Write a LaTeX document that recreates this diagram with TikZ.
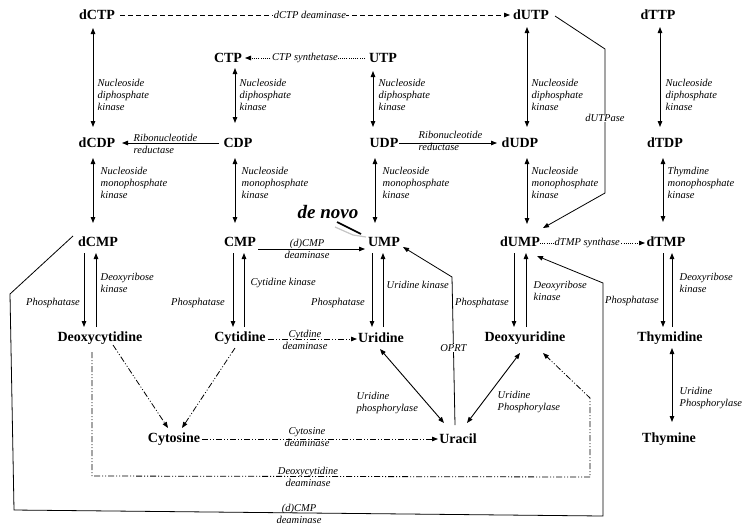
\documentclass[tikz,border=0pt]{standalone}
\usepackage{fontspec}
\setmainfont{Liberation Serif}
\usetikzlibrary{arrows.meta}
\tikzset{
  nd/.style={font=\fontsize{14}{15}\selectfont\bfseries, inner sep=1pt},
  lab/.style={font=\fontsize{10.5}{12}\selectfont\itshape, inner sep=0.5pt, align=left},
  labc/.style={font=\fontsize{10.5}{12}\selectfont\itshape, inner sep=0.5pt, align=center},
  tip/.tip={Triangle[length=6pt,width=4.5pt]},
  con/.style={line width=0.8pt},
  one/.style={con, -tip},
  two/.style={line width=1pt, tip-tip},
  dn/.style={line width=1pt, -tip},
  dsh/.style={con, -tip, dash pattern=on 5pt off 3pt},
  dts/.style={con, -tip, dash pattern=on 1pt off 1.2pt},
  ddot/.style={con, -tip, dash pattern=on 6pt off 2pt on 1pt off 2pt on 1pt off 2pt},
}
\begin{document}
\begin{tikzpicture}[x=1pt,y=-1pt]
\useasboundingbox[fill=white] (0,0) rectangle (751,531);
% nodes
\node[nd] (dCTP) at (97,15) {dCTP};
\node[nd] (dUTP) at (531,15) {dUTP};
\node[nd] (dTTP) at (658,15) {dTTP};
\node[nd] (CTP) at (228,58) {CTP};
\node[nd] (UTP) at (383,58) {UTP};
\node[nd] (dCDP) at (97,143) {dCDP};
\node[nd] (CDP) at (238,143) {CDP};
\node[nd] (UDP) at (384,143) {UDP};
\node[nd] (dUDP) at (520,143) {dUDP};
\node[nd] (dTDP) at (665,143) {dTDP};
\node[nd] (dCMP) at (98,242) {dCMP};
\node[nd] (CMP) at (240,242) {CMP};
\node[nd] (UMP) at (384,242) {UMP};
\node[nd] (dUMP) at (520,242) {dUMP};
\node[nd] (dTMP) at (666,242) {dTMP};
\node[nd] (dCyd) at (100,338) {Deoxycytidine};
\node[nd] (Cyd) at (240,338) {Cytidine};
\node[nd] (Urd) at (381,338) {Uridine};
\node[nd] (dUrd) at (525,338) {Deoxyuridine};
\node[nd] (Thd) at (670,338) {Thymidine};
\node[nd] (Cyt) at (174,439) {Cytosine};
\node[nd] (Ura) at (458,439) {Uracil};
\node[nd] (Thy) at (669,439) {Thymine};
\node[font=\fontsize{19}{21}\selectfont\bfseries\itshape, inner sep=0pt] (denovo) at (328,212) {de novo};
\coordinate (dn1) at (337,222);
\coordinate (dn2) at (361,234);
\draw[gray!45, line width=1.2pt] ([shift={(-2,5)}]dn1) -- ([shift={(-8,1)}]dn2) -- ([shift={(5,3)}]dn2);
\draw[line width=1.6pt] (dn1) -- (dn2);

% top row
\draw[dsh] ([shift={(23,0)}]dCTP.center) -- node[labc, fill=white, pos=0.487] (l1) {dCTP deaminase} ([shift={(-21,0)}]dUTP.center);
\draw[dts] ([shift={(-18,0)}]UTP.center) -- node[labc, fill=white, pos=0.5] (l2) {CTP synthetase} ([shift={(17,0)}]CTP.center);

% NDK verticals
\draw[two] ([shift={(-4,13)}]dCTP.center) -- ([shift={(-4,-16)}]dCDP.center);
\draw[two] ([shift={(7,10)}]CTP.center) -- ([shift={(-3,-20)}]CDP.center);
\draw[two] ([shift={(-10,13)}]UTP.center) -- ([shift={(-11,-16)}]UDP.center);
\draw[two] ([shift={(-4,12)}]dUTP.center) -- ([shift={(7,-16)}]dUDP.center);
\draw[two] ([shift={(2,12)}]dTTP.center) -- ([shift={(-5,-16)}]dTDP.center);
\node[lab, anchor=west] at (97,95) {Nucleoside\\diphosphate\\kinase};
\node[lab, anchor=west] at (239,95) {Nucleoside\\diphosphate\\kinase};
\node[lab, anchor=west] at (378,95) {Nucleoside\\diphosphate\\kinase};
\node[lab, anchor=west] at (531,95) {Nucleoside\\diphosphate\\kinase};
\node[lab, anchor=west] at (665,95) {Nucleoside\\diphosphate\\kinase};

% ribonucleotide reductase
\draw[one] ([shift={(-19,0)}]CDP.center) -- ([shift={(25,0)}]dCDP.center);
\node[lab, anchor=west] at (133,144) {Ribonucleotide\\reductase};
\draw[one] ([shift={(15,0)}]UDP.center) -- ([shift={(-23,0)}]dUDP.center);
\node[lab, anchor=west] at (418,141) {Ribonucleotide\\reductase};

% NMK verticals
\draw[two] ([shift={(-4,15)}]dCDP.center) -- ([shift={(-5,-19)}]dCMP.center);
\draw[two] ([shift={(-3,15)}]CDP.center) -- ([shift={(-5,-19)}]CMP.center);
\draw[two] ([shift={(-9,15)}]UDP.center) -- ([shift={(-9,-19)}]UMP.center);
\draw[two] ([shift={(7,15)}]dUDP.center) -- ([shift={(7,-18)}]dUMP.center);
\draw[two] ([shift={(-2,15)}]dTDP.center) -- ([shift={(-3,-20)}]dTMP.center);
\node[lab, anchor=west] at (100,183) {Nucleoside\\monophosphate\\kinase};
\node[lab, anchor=west] at (241,183) {Nucleoside\\monophosphate\\kinase};
\node[lab, anchor=west] at (382,183) {Nucleoside\\monophosphate\\kinase};
\node[lab, anchor=west] at (531,183) {Nucleoside\\monophosphate\\kinase};
\node[lab, anchor=west] at (667,183) {Thymdine\\monophosphate\\kinase};

% dUTPase
\coordinate (u1) at (605,49);
\coordinate (u2) at (605,193);
\draw[one] ([shift={(24,1)}]dUTP.center) -- (u1) -- node[labc, fill=white, pos=0.48] {dUTPase} (u2) -- ([shift={(23,-14)}]dUMP.center);

% CMP -> UMP, dUMP -> dTMP
\draw[one] ([shift={(18,7)}]CMP.center) -- ([shift={(-19,7)}]UMP.center);
\node[labc] at (307,249) {(d)CMP\\deaminase};
\draw[dts] ([shift={(20,1)}]dUMP.center) -- node[labc, fill=white, pos=0.45] {dTMP synthase} ([shift={(-21,1)}]dTMP.center);

% phosphatase / kinase pairs
\draw[dn] ([shift={(-14,11)}]dCMP.center) -- ([shift={(-16,-11)}]dCyd.center);
\draw[dn] ([shift={(-4,-11)}]dCyd.center) -- ([shift={(-2,11)}]dCMP.center);
\draw[dn] ([shift={(-7,11)}]CMP.center) -- ([shift={(-7,-11)}]Cyd.center);
\draw[dn] ([shift={(4,-11)}]Cyd.center) -- ([shift={(4,11)}]CMP.center);
\draw[dn] ([shift={(-12,11)}]UMP.center) -- ([shift={(-9,-11)}]Urd.center);
\draw[dn] ([shift={(2,-11)}]Urd.center) -- ([shift={(-1,11)}]UMP.center);
\draw[dn] ([shift={(-6,11)}]dUMP.center) -- ([shift={(-11,-11)}]dUrd.center);
\draw[dn] ([shift={(1,-11)}]dUrd.center) -- ([shift={(6,11)}]dUMP.center);
\draw[dn] ([shift={(-3,11)}]dTMP.center) -- ([shift={(-7,-11)}]Thd.center);
\draw[dn] ([shift={(2,-11)}]Thd.center) -- ([shift={(6,11)}]dTMP.center);
\node[labc] at (53,303) {Phosphatase};
\node[labc] at (198,303) {Phosphatase};
\node[labc] at (338,303) {Phosphatase};
\node[labc] at (482,303) {Phosphatase};
\node[labc] at (632,301) {Phosphatase};
\node[lab, anchor=west] at (100,282.5) {Deoxyribose\\kinase};
\node[lab, anchor=west] at (250,283) {Cytidine kinase};
\node[lab, anchor=west] at (386,285) {Uridine kinase};
\node[lab, anchor=west] at (533,291) {Deoxyribose\\kinase};
\node[lab, anchor=west] at (679,282.5) {Deoxyribose\\kinase};

% OPRT
\coordinate (o1) at (452,277);
\draw[one] ([shift={(-3,-14)}]Ura.center) -- node[labc, fill=white, pos=0.52] {OPRT} (o1) -- ([shift={(19,5)}]UMP.center);

% salvage bottom
\draw[ddot] ([shift={(28,1)}]Cyd.center) -- ([shift={(-24,1)}]Urd.center);
\node[labc] at (305,340) {Cytdine\\deaminase};
\draw[ddot] ([shift={(13,7)}]dCyd.center) -- ([shift={(-6,-11)}]Cyt.center);
\draw[ddot] ([shift={(-5,10)}]Cyd.center) -- ([shift={(8,-11)}]Cyt.center);
\draw[ddot] ([shift={(28,0)}]Cyt.center) -- ([shift={(-20,0)}]Ura.center);
\node[labc] at (307,437) {Cytosine\\deaminase};
\draw[two, line width=0.9pt] ([shift={(-1,11)}]Urd.center) -- ([shift={(-14,-16)}]Ura.center);
\draw[two, line width=0.9pt] ([shift={(-5,15)}]dUrd.center) -- ([shift={(9,-16)}]Ura.center);
\node[lab, anchor=west] at (356,403) {Uridine\\phosphorylase};
\node[lab, anchor=west] at (497,402) {Uridine\\Phosphorylase};
\draw[two, line width=0.9pt] ([shift={(2,10)}]Thd.center) -- ([shift={(3,-17)}]Thy.center);
\node[lab, anchor=west] at (679,398) {Uridine\\Phosphorylase};

% deoxycytidine deaminase loop
\coordinate (c1) at (92,476);
\coordinate (c2) at (590,477);
\coordinate (c3) at (590,398);
\draw[ddot] ([shift={(-8,14)}]dCyd.center) -- (c1) -- (c2) -- (c3) -- ([shift={(18,15)}]dUrd.center);
\node[labc] at (308,477) {Deoxycytidine\\deaminase};

% (d)CMP deaminase loop
\coordinate (m1) at (10,294);
\coordinate (m2) at (14,510);
\coordinate (m3) at (603,516);
\coordinate (m4) at (603,283);
\draw[one] ([shift={(-25,-6)}]dCMP.center) -- (m1) -- (m2) -- (m3) -- (m4) -- ([shift={(17,14)}]dUMP.center);
\node[labc] at (299,514) {(d)CMP\\deaminase};
\end{tikzpicture}
\end{document}
